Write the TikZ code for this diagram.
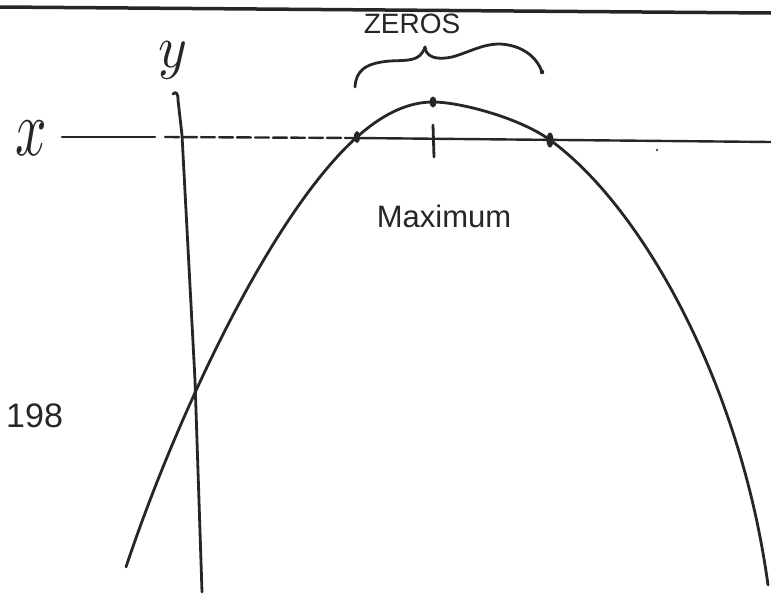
\documentclass[tikz,border=0pt]{standalone}
\usepackage{fontspec}
\setmainfont{Liberation Sans}
\begin{document}
\begin{tikzpicture}[x=1pt,y=-1pt,
  ink/.style={draw=black!85, line width=2.8pt, line cap=round, line join=round},
  lbl/.style={inner sep=0pt, text=black!85}]
\useasboundingbox (0,0) rectangle (771,595);
\fill[white] (0,0) rectangle (771,595);
% top border
\draw[ink, line width=3.5pt] (0,7) -- (771,13);
% labels
\node[lbl, font=\fontsize{28}{28}\selectfont] (zeros) at (412,24) {ZEROS};
\node[lbl, font=\fontsize{31}{31}\selectfont] (max) at (444,216) {Maximum};
\node[lbl, font=\fontsize{34}{34}\selectfont, anchor=west] (n198) at (6,416) {198};
\node[lbl] (xl) at (31,138) {\scalebox{5.5}[8]{$x$}};
\node[lbl] (yl) at (173,60) {\scalebox{5.5}[6]{$y$}};
% x-axis
\coordinate (xa) at (62,137);
\coordinate (xb) at (155,137);
\coordinate (xc) at (165,137);
\coordinate (xd) at (356,138);
\coordinate (xe) at (771,142);
\draw[ink, line width=2.4pt] (xa) -- (xb);
\draw[ink, line width=2.4pt, dash pattern=on 14pt off 4pt] (xc) -- (xd);
\draw[ink, line width=2.4pt] (xd) -- (xe);
% y-axis
\coordinate (yb) at (202,592);
\draw[ink] (173,94) .. controls (176,91) and (178,93) .. (178,100) -- (182,135) -- (195,380) -- (yb);
% parabola
\coordinate (pl) at (126,567);
\coordinate (z1) at (357,137);
\coordinate (v) at (433,102);
\coordinate (z2) at (550,140);
\coordinate (pr) at (768,585);
\draw[ink] (pl) .. controls (175,420) and (270,215) .. (z1)
  .. controls (385,112) and (410,102) .. (v)
  .. controls (460,102) and (520,118) .. (z2)
  .. controls (640,205) and (740,380) .. (pr);
% vertex dot, ticks
\fill[black!85] (v) ellipse (3.5pt and 5.5pt);
\draw[ink] (433,125) -- (434,157);
\fill[black!85] (z1) ellipse (3pt and 6pt);
\fill[black!85] (z2) ellipse (3.5pt and 7.5pt);
\fill[black!70] (657,150) circle (1.3pt);
% brace
\draw[ink] (355,87) .. controls (356,70) and (366,63) .. (390,61)
  .. controls (408,60) and (420,62) .. (425,47);
\draw[ink] (425,47) .. controls (426,58) and (438,60) .. (452,57)
  .. controls (470,52) and (482,44) .. (500,44)
  .. controls (520,45) and (536,55) .. (542,72);
\fill[black!85] (542,72) circle (2.3pt);
\end{tikzpicture}
\end{document}
